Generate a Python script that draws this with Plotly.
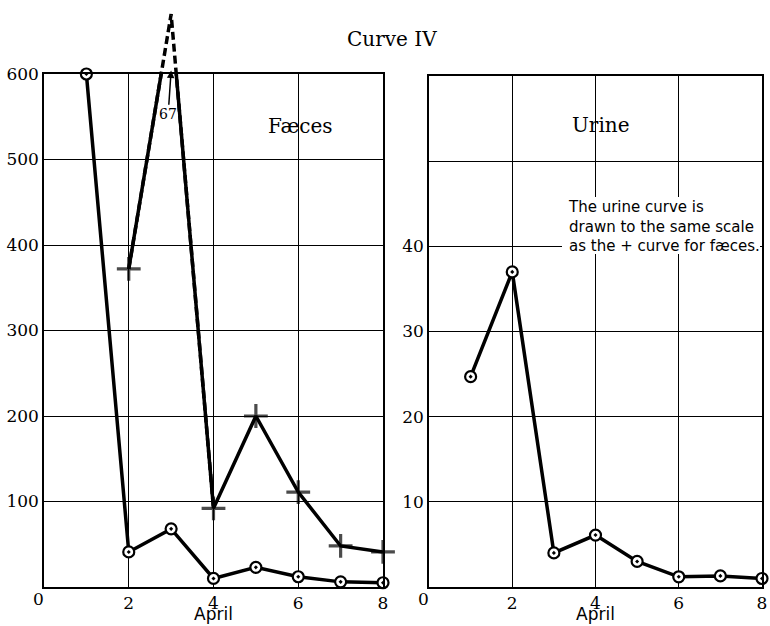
import plotly.graph_objects as go

# ---- data ----
days = [1, 2, 3, 4, 5, 6, 7, 8]
faeces_circle = [600, 41, 68, 10, 23, 12, 6, 5]
plus_days = [2, 3, 4, 5, 6, 7, 8]
faeces_plus = [372, 670, 92, 200, 111, 48, 41]
urine = [24.7, 37.0, 4.0, 6.1, 3.0, 1.2, 1.3, 1.0]

left_yticks = [100, 200, 300, 400, 500, 600]
right_yticks = [10, 20, 30, 40, 50]
right_yticktext = ["10", "20", "30", "40", ""]
xticks = [2, 4, 6, 8]

W, H = 770, 626
def xd(p): return p / W
def yd(p): return 1 - p / H

SERIF = "DejaVu Serif"
SANS = "DejaVu Sans"
LW = 3.5

left_dom_y = [yd(587), yd(74)]
dash_top = left_dom_y[0] + (left_dom_y[1] - left_dom_y[0]) * 680 / 600

fig = go.Figure()

circle_marker = dict(symbol="circle-dot", size=11, color="white",
                     line=dict(color="black", width=2.2))
# no cross at the off-chart peak (day 3)
plus_sizes = [17 if v <= 600 else 0 for v in faeces_plus]
plus_marker = dict(symbol="cross-thin", size=plus_sizes, color="black",
                   line=dict(color="black", width=3.2))

# dashed overflow of the + curve above the frame
fig.add_trace(go.Scatter(x=plus_days[:3], y=faeces_plus[:3], mode="lines",
                         line=dict(color="black", width=LW, dash="8px,4px"),
                         xaxis="x3", yaxis="y3", hoverinfo="skip"))
# faeces curves
fig.add_trace(go.Scatter(x=days, y=faeces_circle, mode="lines+markers",
                         line=dict(color="black", width=LW), marker=circle_marker,
                         cliponaxis=False, xaxis="x", yaxis="y"))
fig.add_trace(go.Scatter(x=plus_days, y=faeces_plus, mode="lines+markers",
                         line=dict(color="black", width=LW), marker=plus_marker,
                         cliponaxis=False, xaxis="x", yaxis="y"))
# urine curve
fig.add_trace(go.Scatter(x=days, y=urine, mode="lines+markers",
                         line=dict(color="black", width=LW), marker=circle_marker,
                         cliponaxis=False, xaxis="x2", yaxis="y2"))

axis_common = dict(showline=True, mirror=True, linecolor="black", linewidth=1.5,
                   showgrid=True, gridcolor="black", gridwidth=1, zeroline=False,
                   ticks="", automargin=False,
                   tickfont=dict(family=SERIF, size=17, color="black"))

fig.update_layout(
    width=W, height=H, margin=dict(l=0, r=0, t=0, b=0),
    paper_bgcolor="white", plot_bgcolor="rgba(0,0,0,0)", showlegend=False,
    xaxis=dict(domain=[xd(44), xd(383)], range=[0, 8], tickvals=xticks,
               anchor="y", **axis_common),
    yaxis=dict(domain=left_dom_y, range=[0, 600], tickvals=left_yticks,
               anchor="x", **axis_common),
    xaxis2=dict(domain=[xd(429), xd(762)], range=[0, 8], tickvals=xticks,
                anchor="y2", **axis_common),
    yaxis2=dict(domain=[yd(587), yd(76)], range=[0, 60], tickvals=right_yticks,
                ticktext=right_yticktext, anchor="x2", **axis_common),
    xaxis3=dict(domain=[xd(44), xd(383)], range=[0, 8], visible=False, anchor="y3"),
    yaxis3=dict(domain=[left_dom_y[0], dash_top], range=[0, 680], visible=False,
                anchor="x3"),
)

ann = []
def txt(text, x, y, size, family, xref="paper", yref="paper", xanchor="center",
        align="center"):
    return dict(text=text, xref=xref, yref=yref, x=x, y=y, xanchor=xanchor,
                yanchor="middle", showarrow=False, align=align,
                font=dict(family=family, size=size, color="black"))

ann.append(txt("Curve IV", xd(392), yd(39), 20, SERIF))
ann.append(txt("Fæces", 6.06, 539, 20, SERIF, "x", "y"))
ann.append(txt("Urine", 4.13, 54.2, 20, SERIF, "x2", "y2"))
ann.append(dict(text="67", xref="x", yref="y", x=3, y=604, ax=2.93, ay=553,
                axref="x", ayref="y", showarrow=True, arrowhead=2, arrowsize=1,
                arrowwidth=1.5, arrowcolor="black", standoff=0, startstandoff=0,
                xanchor="center", yanchor="middle",
                font=dict(family=SERIF, size=14, color="black")))
note = "The urine curve is<br>drawn to the same scale<br>as the + curve for fæces."
ann.append(txt(note, xd(566), yd(226), 15, SANS, xanchor="left", align="left"))
for xr in ("x", "x2"):
    ann.append(txt("April", 4, yd(614), 17, SANS, xr, "paper"))
ann.append(txt("0", xd(38), yd(599), 17, SERIF))
ann.append(txt("0", xd(423), yd(599), 17, SERIF))
fig.update_layout(annotations=ann)

# white patch behind the note text (it interrupts the grid in the original)
fig.add_shape(type="rect", xref="paper", yref="paper", x0=xd(562), x1=xd(760),
              y0=yd(254), y1=yd(197), fillcolor="white", line=dict(width=0),
              layer="above")

fig.write_html("out.html")
